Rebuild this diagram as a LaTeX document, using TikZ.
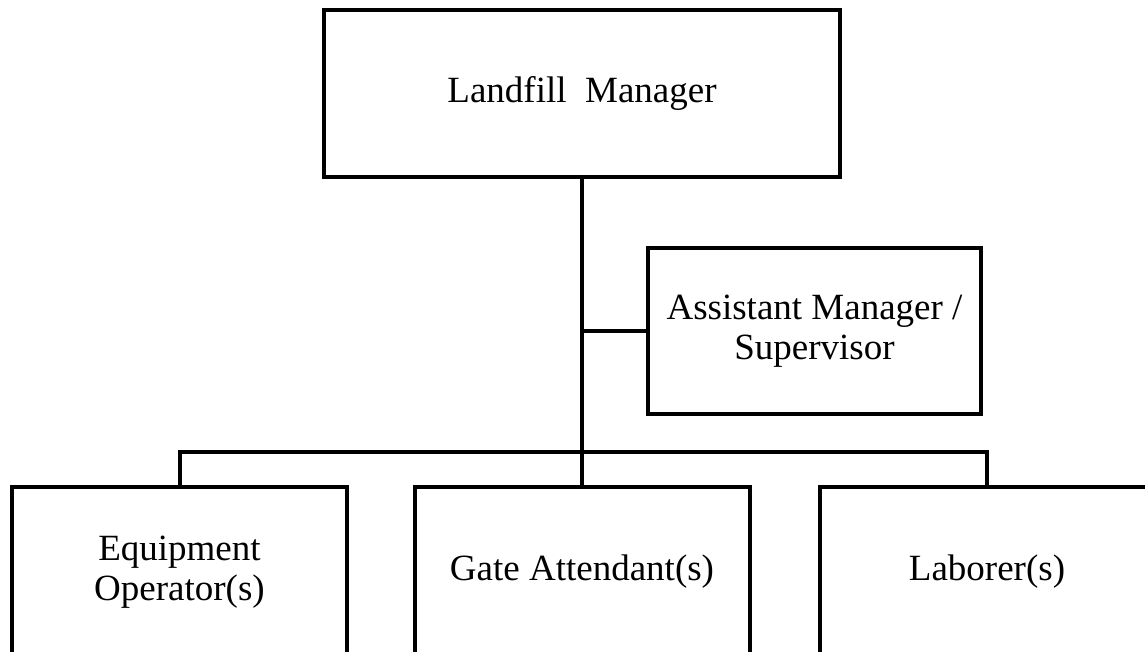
\documentclass[tikz,border=0pt]{standalone}
\usepackage{fontspec}
\setmainfont{Liberation Serif}
\usepackage{tikz}

\begin{document}
\begin{tikzpicture}[x=1pt,y=-1pt,
            post/.style={draw,line width=4pt,rectangle,inner sep=0pt,
                align=center,font=\fontsize{37}{40}\selectfont},
            staff/.style={post,minimum width=335pt,minimum height=170pt},
            link/.style={line width=4pt}]
        \useasboundingbox (0,0) rectangle (1145,651);
        \clip (0,0) rectangle (1145,651);
        \node[post,minimum width=516pt,minimum height=167pt] (manager) at (582,93.5) {Landfill\ \ Manager};
        \node[post,minimum width=333pt,minimum height=166pt] (assistant) at (814.5,331) {Assistant Manager /\\Supervisor};
        \node[staff] (operator) at (179.5,572) {Equipment\\Operator(s)};
        \node[staff] (gate) at (582,572) {Gate Attendant(s)};
        \node[staff] (laborer) at (987,572) {Laborer(s)};
        \coordinate (bar) at (582,452);
        \draw[link] (manager.south) -- (gate.north);
        \draw[link] (manager.south |- assistant.west) -- (assistant.west);
        \draw[link] (operator.north) |- (bar) -| (laborer.north);
    \end{tikzpicture}
\end{document}
